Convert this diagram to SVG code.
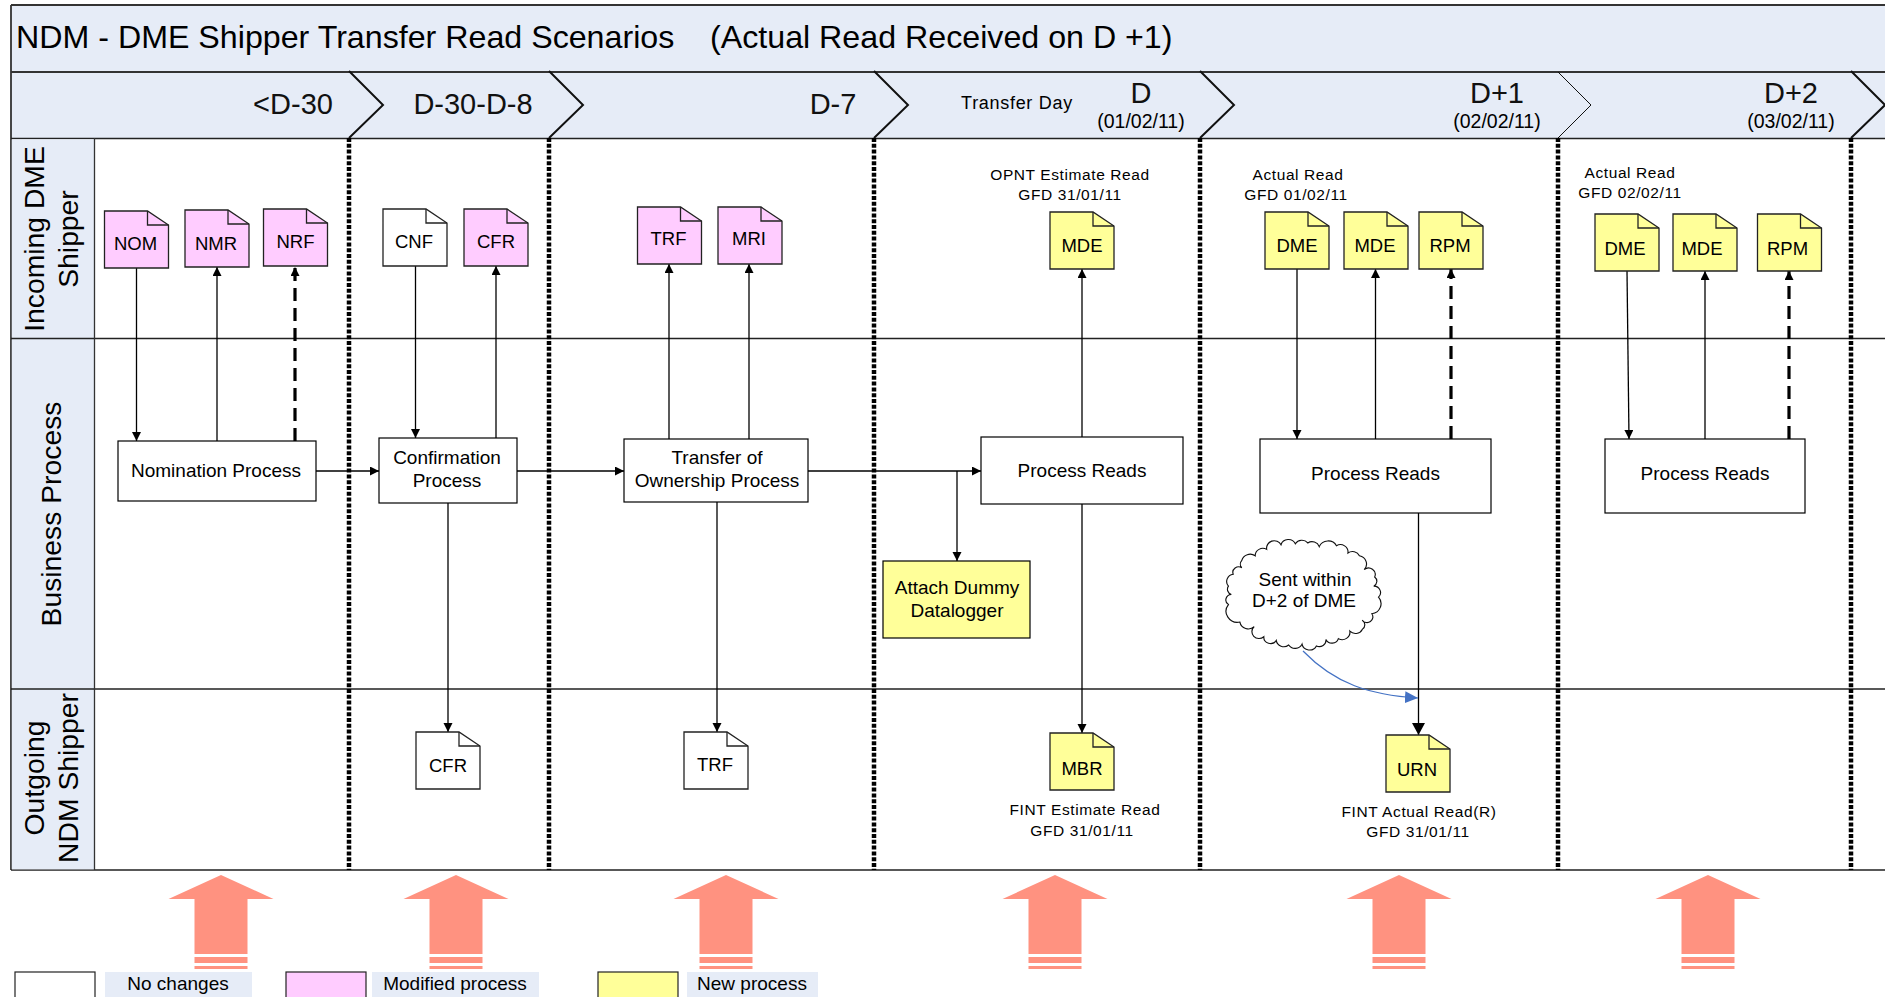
<svg xmlns="http://www.w3.org/2000/svg" width="1885" height="997" viewBox="0 0 1885 997">
<style>
text{font-family:"Liberation Sans",Arial,sans-serif;fill:#000}
.ln{fill:none;stroke:#000;stroke-width:1.3}
.dash{fill:none;stroke:#000;stroke-width:3.2;stroke-dasharray:13 7}
.div{fill:none;stroke:#000;stroke-width:4.5;stroke-dasharray:4 1.8}
.band{fill:#E6ECF7}
.note text{font-size:18.500px;text-anchor:middle}
.pink{fill:#FFCCFF}.yel{fill:#FFFF99}.wht{fill:#fff}
.box rect{stroke:#000;stroke-width:1.2}
.box text{font-size:19px;text-anchor:middle}
.hd{font-size:29px;text-anchor:middle;fill:#111}
.dt{font-size:19.500px;text-anchor:middle}
.cap{font-size:15.500px;text-anchor:middle;letter-spacing:.6px}
.rot{font-size:28.300px;text-anchor:middle}
.big{fill:#FF9280}
.leg{font-size:19px;text-anchor:middle}
</style>
<defs>
<g id="note"><path d="M0 0H43L64 14V57H0Z" stroke="#222" stroke-width="1.3"/><path d="M43 0V14H64" fill="none" stroke="#222" stroke-width="1.3"/></g>
<marker id="ar" markerUnits="userSpaceOnUse" markerWidth="10" markerHeight="10" refX="9" refY="4.500" orient="auto"><path d="M0 0L9 4.500L0 9Z" fill="#000"/></marker>
<marker id="arl" markerUnits="userSpaceOnUse" markerWidth="14" markerHeight="14" refX="12" refY="6.500" orient="auto"><path d="M0 0L12 6.500L0 13Z" fill="#000"/></marker>
<marker id="arb" markerUnits="userSpaceOnUse" markerWidth="14" markerHeight="14" refX="13" refY="6" orient="auto"><path d="M0 0L13 6L0 12Z" fill="#4472C4"/></marker>
<path id="bigarrow" d="M0 0L52.500 24H26.500V79H-26.500V24H-52.500ZM-26.500 82H26.500V88H-26.500ZM-26.500 91H26.500V94H-26.500Z"/>
</defs>

<g id="bands">
<rect x="11" y="5" width="1874" height="133" class="band"/>
<path d="M11 72H1885M11 5H1885M11 5V870" fill="none" stroke="#333" stroke-width="1.8"/>
<path d="M11 138.500H1885M11 338.500H1885M11 689H1885M11 870H1885" fill="none" stroke="#222" stroke-width="1.6"/>
<rect x="11.800" y="139.300" width="82.700" height="730" class="band"/>
<path d="M94.500 138V870" fill="none" stroke="#333" stroke-width="1.3"/>
<path d="M11 338.500H94M11 689H94" stroke="#222" stroke-width="1.6"/>
</g>

<g id="chevrons" fill="none" stroke="#111" stroke-width="2">
<path d="M349 71L383 105L349 138"/>
<path d="M549 71L583 105L549 138"/>
<path d="M874 71L908 105L874 138"/>
<path d="M1200 71L1234 105L1200 138"/>
<path d="M1558 72L1591 105L1558 138" stroke-width="1"/>
<path d="M1851 71L1885 105L1851 138"/>
</g>

<g id="dividers">
<path class="div" d="M349 138V870"/><path class="div" d="M549 138V870"/><path class="div" d="M874 138V870"/><path class="div" d="M1200 138V870"/><path class="div" d="M1558 138V870"/><path class="div" d="M1851 138V870"/>
</g>

<g id="headers">
<text x="16" y="48" font-size="32.200" id="title">NDM - DME Shipper Transfer Read Scenarios</text>
<text x="710" y="48" font-size="32.200">(Actual Read Received on D +1)</text>
<text class="hd" x="293" y="114">&lt;D-30</text>
<text class="hd" x="473" y="114">D-30-D-8</text>
<text class="hd" x="833" y="114">D-7</text>
<text x="1017" y="109" font-size="18" text-anchor="middle" letter-spacing=".7">Transfer Day</text>
<text class="hd" x="1141" y="103">D</text>
<text class="dt" x="1141" y="128">(01/02/11)</text>
<text class="hd" x="1497" y="103">D+1</text>
<text class="dt" x="1497" y="128">(02/02/11)</text>
<text class="hd" x="1791" y="103">D+2</text>
<text class="dt" x="1791" y="128">(03/02/11)</text>
<text class="rot" transform="translate(44 239) rotate(-90)">Incoming DME</text>
<text class="rot" transform="translate(78 239) rotate(-90)">Shipper</text>
<text class="rot" transform="translate(61 514) rotate(-90)">Business Process</text>
<text class="rot" transform="translate(44 778) rotate(-90)">Outgoing</text>
<text class="rot" transform="translate(78 778) rotate(-90)">NDM Shipper</text>
</g>

<g id="connectors">
<path class="ln" marker-end="url(#ar)" d="M136.500 268V441"/>
<path class="ln" marker-end="url(#ar)" d="M217 441V267"/>
<path class="dash" marker-end="url(#ar)" d="M295 441V267"/>
<path class="ln" marker-end="url(#ar)" d="M415.500 266V438"/>
<path class="ln" marker-end="url(#ar)" d="M496 438V266"/>
<path class="ln" marker-end="url(#ar)" d="M669 439V264"/>
<path class="ln" marker-end="url(#ar)" d="M749 439V264"/>
<path class="ln" marker-end="url(#ar)" d="M316 471H379"/>
<path class="ln" marker-end="url(#ar)" d="M517 471H624"/>
<path class="ln" marker-end="url(#ar)" d="M808 471H981"/>
<path class="ln" marker-end="url(#ar)" d="M957 471V561"/>
<path class="ln" marker-end="url(#ar)" d="M448 503V732"/>
<path class="ln" marker-end="url(#ar)" d="M717 502V732"/>
<path class="ln" marker-end="url(#ar)" d="M1082 437V269"/>
<path class="ln" marker-end="url(#ar)" d="M1082 503V733"/>
<path class="ln" marker-end="url(#ar)" d="M1297 269V439"/>
<path class="ln" marker-end="url(#ar)" d="M1375.500 439V269"/>
<path class="dash" marker-end="url(#ar)" d="M1451 439V269"/>
<path class="ln" marker-end="url(#arl)" d="M1418.500 513V735"/>
<path class="ln" marker-end="url(#ar)" d="M1627 271L1629 439"/>
<path class="ln" marker-end="url(#ar)" d="M1705 439V271"/>
<path class="dash" marker-end="url(#ar)" d="M1789 439V271"/>
<path d="M1303 651C1335 684 1370 695 1418 698" fill="none" stroke="#4472C4" stroke-width="1.2" marker-end="url(#arb)"/>
</g>

<g id="n-nom" class="note pink" transform="translate(104.500 211)"><use href="#note"/><text x="31" y="39">NOM</text></g>
<g id="n-nmr" class="note pink" transform="translate(185 210)"><use href="#note"/><text x="31" y="40">NMR</text></g>
<g id="n-nrf" class="note pink" transform="translate(263.500 209)"><use href="#note"/><text x="32" y="39">NRF</text></g>
<g id="n-cnf" class="note wht" transform="translate(383 209)"><use href="#note"/><text x="31" y="39">CNF</text></g>
<g id="n-cfr" class="note pink" transform="translate(464 209)"><use href="#note"/><text x="32" y="39">CFR</text></g>
<g id="n-trf" class="note pink" transform="translate(637.500 207)"><use href="#note"/><text x="31" y="38">TRF</text></g>
<g id="n-mri" class="note pink" transform="translate(718 207)"><use href="#note"/><text x="31" y="38">MRI</text></g>
<g id="n-mde1" class="note yel" transform="translate(1050 212)"><use href="#note"/><text x="32" y="40">MDE</text></g>
<g id="n-dme1" class="note yel" transform="translate(1265 212)"><use href="#note"/><text x="32" y="40">DME</text></g>
<g id="n-mde2" class="note yel" transform="translate(1344 212)"><use href="#note"/><text x="31" y="40">MDE</text></g>
<g id="n-rpm1" class="note yel" transform="translate(1419 212)"><use href="#note"/><text x="31" y="40">RPM</text></g>
<g id="n-dme2" class="note yel" transform="translate(1595 214)"><use href="#note"/><text x="30" y="41">DME</text></g>
<g id="n-mde3" class="note yel" transform="translate(1673 214)"><use href="#note"/><text x="29" y="41">MDE</text></g>
<g id="n-rpm2" class="note yel" transform="translate(1757.500 214)"><use href="#note"/><text x="30" y="41">RPM</text></g>
<g id="n-cfr2" class="note wht" transform="translate(416 732)"><use href="#note"/><text x="32" y="40">CFR</text></g>
<g id="n-trf2" class="note wht" transform="translate(684 732)"><use href="#note"/><text x="31" y="39">TRF</text></g>
<g id="n-mbr" class="note yel" transform="translate(1050 733)"><use href="#note"/><text x="32" y="42">MBR</text></g>
<g id="n-urn" class="note yel" transform="translate(1386 735)"><use href="#note"/><text x="31" y="41">URN</text></g>

<g id="p-nom" class="box"><rect x="118" y="441" width="198" height="60" fill="#fff"/><text x="216" y="477">Nomination Process</text></g>
<g id="p-cnf" class="box"><rect x="379" y="438" width="138" height="65" fill="#fff"/><text x="447" y="464">Confirmation</text><text x="447" y="487">Process</text></g>
<g id="p-trf" class="box"><rect x="624" y="439" width="184" height="63" fill="#fff"/><text x="717" y="464">Transfer of</text><text x="717" y="487">Ownership Process</text></g>
<g id="p-r1" class="box"><rect x="981" y="437" width="202" height="67" fill="#fff"/><text x="1082" y="477">Process Reads</text></g>
<g id="p-dum" class="box"><rect x="883" y="561" width="147" height="77" fill="#FFFF99"/><text x="957" y="594">Attach Dummy</text><text x="957" y="617">Datalogger</text></g>
<g id="p-r2" class="box"><rect x="1260" y="439" width="231" height="74" fill="#fff"/><text x="1375.500" y="480">Process Reads</text></g>
<g id="p-r3" class="box"><rect x="1605" y="439" width="200" height="74" fill="#fff"/><text x="1705" y="480">Process Reads</text></g>

<g id="cloud">
<path transform="translate(1303 592.600) scale(.956 .92) translate(-1303 -595)" d="M1253 555A8 8 0 0 1 1265 548A8 8 0 0 1 1280 543A8 8 0 0 1 1295 542A8 8 0 0 1 1308 541A8 8 0 0 1 1320 545A10 10 0 0 1 1338 544A8 8 0 0 1 1350 552A8 8 0 0 1 1362 555A9 9 0 0 1 1367 570A7 7 0 0 1 1378 578A6 6 0 0 1 1377 588A7 7 0 0 1 1382 600A11 11 0 0 1 1375 618A6 6 0 0 1 1365 625A6 6 0 0 1 1365 635A8 8 0 0 1 1352 637A8 8 0 0 1 1340 645A7 7 0 0 1 1327 646A7 7 0 0 1 1317 653A8 8 0 0 1 1302 651A8 8 0 0 1 1288 652A8 8 0 0 1 1275 647A7 7 0 0 1 1262 643A7 7 0 0 1 1252 632A9 9 0 0 1 1237 627A12 12 0 0 1 1225 608A6 6 0 0 1 1228 597A6 6 0 0 1 1225 588A8 8 0 0 1 1230 575A6 6 0 0 1 1239 568A6 6 0 0 1 1239 560A9 9 0 0 1 1253 555Z" fill="#fff" stroke="#111" stroke-width="1.200"/>
<text x="1305" y="586" font-size="19" text-anchor="middle">Sent within</text>
<text x="1304" y="607" font-size="19" text-anchor="middle">D+2 of DME</text>
</g>

<g id="captions">
<text class="cap" x="1070" y="180">OPNT Estimate Read</text><text class="cap" x="1070" y="200">GFD 31/01/11</text>
<text class="cap" x="1298" y="180">Actual Read</text><text class="cap" x="1296" y="200">GFD 01/02/11</text>
<text class="cap" x="1630" y="178">Actual Read</text><text class="cap" x="1630" y="198">GFD 02/02/11</text>
<text class="cap" x="1085" y="815">FINT Estimate Read</text><text class="cap" x="1082" y="836">GFD 31/01/11</text>
<text class="cap" x="1419" y="817">FINT Actual Read(R)</text><text class="cap" x="1418" y="837">GFD 31/01/11</text>
</g>

<g id="big-arrows" class="big">
<use href="#bigarrow" x="221" y="875"/><use href="#bigarrow" x="456" y="875"/><use href="#bigarrow" x="726" y="875"/><use href="#bigarrow" x="1055" y="875"/><use href="#bigarrow" x="1399" y="875"/><use href="#bigarrow" x="1708" y="875"/>
</g>

<g id="legend">
<rect x="15" y="972" width="80" height="30" fill="#fff" stroke="#222" stroke-width="1.200"/>
<rect x="105" y="972" width="147" height="30" class="band"/><text class="leg" x="178" y="990">No changes</text>
<rect x="286" y="972" width="80" height="30" fill="#FFCCFF" stroke="#222" stroke-width="1.200"/>
<rect x="372" y="972" width="167" height="30" class="band"/><text class="leg" x="455" y="990">Modified process</text>
<rect x="598" y="972" width="80" height="30" fill="#FFFF99" stroke="#222" stroke-width="1.200"/>
<rect x="687" y="972" width="131" height="30" class="band"/><text class="leg" x="752" y="990">New process</text>
</g>
</svg>
